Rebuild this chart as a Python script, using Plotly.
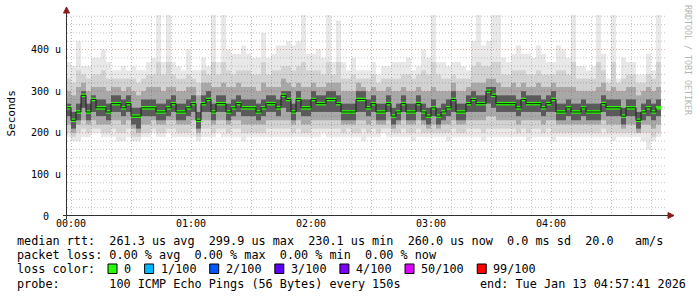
import plotly.graph_objects as go

# ---------------- data ----------------
step_sec = 150            # one smoke column every 150 s
first_step_min = -2.5     # start of first column, minutes after 00:00

median = [260,230,250,290,250,280,260,260,250,270,
          270,260,270,240,240,260,260,260,250,250,
          260,270,250,250,260,270,230,270,280,250,
          270,270,250,260,270,260,260,260,250,260,
          270,270,260,290,280,250,280,260,260,280,
          270,270,280,280,270,250,250,250,280,280,
          260,270,250,250,270,240,250,270,250,250,
          270,250,240,260,240,250,260,280,250,250,
          270,280,270,270,300,290,270,270,270,270,
          260,280,270,270,270,260,270,280,250,250,
          260,250,250,260,250,250,250,270,260,260,
          260,240,260,260,230,250,260,250,260]

smoke_max = [370,360,420,360,360,380,380,400,370,350,
             350,360,350,360,350,350,370,380,490,370,
             490,370,360,350,400,350,350,380,360,490,
             370,490,400,390,390,410,390,380,380,440,
             380,390,410,410,420,410,420,490,390,390,
             400,380,490,370,470,370,350,380,350,350,
             350,370,340,360,360,370,370,370,380,350,
             360,400,380,490,370,370,360,370,370,360,
             350,420,490,410,420,490,490,380,370,390,
             410,390,390,380,410,390,370,370,410,400,
             380,490,360,360,350,360,490,390,330,490,
             330,380,370,370,340,340,390,350,490]

upper_outer = [330,320,350,340,330,340,340,350,330,330,
               330,330,330,330,320,330,340,340,370,340,
               370,340,330,330,340,330,320,350,340,370,
               340,370,350,340,350,350,350,340,340,370,
               340,350,350,360,360,350,360,370,350,350,
               350,340,370,340,370,330,330,340,330,330,
               330,340,320,330,330,330,330,340,340,330,
               340,350,340,370,340,330,330,340,330,330,
               330,360,370,360,360,370,370,340,340,350,
               350,350,340,340,350,340,340,340,350,350,
               340,370,330,330,330,330,370,350,320,370,
               320,330,340,340,320,320,340,330,370]

upper_mid = [300,290,310,320,300,310,310,310,300,310,
             310,300,310,300,290,300,310,310,310,300,
             310,310,300,300,310,310,290,320,320,310,
             310,320,310,310,320,310,310,310,300,320,
             310,310,310,330,320,310,320,310,310,320,
             310,310,320,320,320,300,300,300,320,310,
             300,310,300,300,310,300,300,310,300,300,
             310,300,300,310,300,300,300,320,300,300,
             310,320,320,320,330,330,320,310,310,320,
             310,320,310,310,320,310,310,320,310,310,
             310,310,300,300,300,300,310,320,300,310,
             300,300,310,310,290,300,310,300,310]

core_hi = [270,250,270,300,270,290,280,280,270,290,
           290,280,290,260,260,280,280,280,270,270,
           280,290,270,270,280,290,250,290,300,270,
           290,290,270,280,290,280,280,280,270,280,
           290,290,280,300,300,270,300,280,280,300,
           290,290,300,300,290,270,270,270,300,300,
           280,290,270,270,290,260,270,290,270,270,
           290,270,260,280,260,270,280,300,270,270,
           290,300,290,290,310,310,290,290,290,290,
           280,300,290,290,290,280,290,300,270,270,
           280,270,270,280,270,270,270,290,280,280,
           280,260,280,280,250,270,280,270,280]

core_lo = [240,210,230,260,230,250,240,240,230,250,
           250,240,250,220,210,240,240,240,230,230,
           240,250,230,230,240,250,210,250,250,230,
           250,250,230,240,250,240,240,240,230,240,
           250,250,240,260,250,230,250,240,240,250,
           250,250,250,250,250,230,230,230,250,250,
           240,250,230,230,250,220,230,250,230,230,
           250,230,220,240,220,230,240,250,230,230,
           250,250,250,250,270,260,250,250,250,250,
           240,250,250,250,250,240,250,250,230,230,
           240,230,230,240,230,230,230,250,240,240,
           240,220,240,240,210,230,240,230,240]

lower_mid = [220,200,220,230,220,230,220,220,220,230,
             230,220,230,210,200,220,220,230,220,220,
             230,230,220,220,220,230,200,230,230,220,
             230,230,220,230,230,220,220,220,220,220,
             230,230,230,230,230,220,230,220,220,230,
             230,230,230,230,230,220,220,220,230,230,
             220,230,220,220,230,210,220,230,220,220,
             230,220,210,220,210,220,220,230,220,220,
             230,230,230,230,240,240,230,230,230,230,
             220,230,230,230,230,220,230,230,220,220,
             220,220,220,220,220,220,220,230,220,220,
             220,210,220,220,200,220,220,210,220]

lower_outer = [200,190,200,210,200,210,210,200,200,210,
               200,200,210,190,190,200,200,210,200,200,
               210,210,200,200,200,210,190,210,210,200,
               210,210,200,210,210,200,200,200,200,200,
               210,210,210,210,210,200,210,200,200,210,
               210,210,210,210,210,200,210,200,200,210,
               200,210,200,210,210,200,200,210,200,200,
               210,200,200,200,200,200,200,210,200,200,
               210,210,210,200,210,210,210,210,210,210,
               200,210,200,210,210,200,210,200,200,200,
               200,200,200,200,200,200,200,210,200,200,
               200,200,200,200,200,200,200,190,200]

smoke_min = [190,180,180,190,190,200,200,190,190,190,
             180,180,190,180,180,190,190,200,190,190,
             200,190,190,190,190,190,180,190,190,190,
             200,190,190,190,190,180,190,190,190,190,
             190,190,190,190,190,190,190,190,190,190,
             190,200,190,190,190,190,190,190,190,180,
             190,190,190,200,190,190,190,190,190,180,
             190,190,190,190,190,190,180,190,190,190,
             190,190,190,180,190,190,190,190,190,190,
             190,190,180,190,190,190,190,180,190,190,
             190,190,190,190,190,190,190,190,190,180,
             190,190,190,190,190,180,160,180,190]

time_tick_min = [0, 60, 120, 180, 240]
time_tick_labels = ["00:00", "01:00", "02:00", "03:00", "04:00"]
y_tick_vals = [0, 100, 200, 300, 400]
y_tick_labels = ["0  ", "100 u", "200 u", "300 u", "400 u"]

rtt_avg, rtt_max, rtt_min, rtt_now = 261.3, 299.9, 230.1, 260.0
rtt_sd_ms, am_s = 0.0, 20.0
loss_avg, loss_max, loss_min, loss_now = 0.0, 0.0, 0.0, 0.0
loss_labels = ["0", "1/100", "2/100", "3/100", "4/100", "50/100", "99/100"]
loss_colors = ["#26ff00", "#00b8ff", "#0059ff", "#5e00ff", "#7e00ff", "#dd00ff", "#ff0000"]
probe_text = "100 ICMP Echo Pings (56 Bytes) every 150s"
end_text = "end: Tue Jan 13 04:57:41 2026"

# ---------------- layout geometry ----------------
W, H = 697, 297
PL, PR, PT, PB = 67, 667, 15, 216
X_RANGE = [-2.0, 298.0]
Y_RANGE = [0, 483]

def px(xpix):
    return (xpix - PL) / (PR - PL)

def py(ypix):
    return (PB - ypix) / (PB - PT)

step_min = step_sec / 60.0
starts = [first_step_min + i * step_min for i in range(len(median))]
centers = [s + step_min / 2 for s in starts]

fig = go.Figure()

layers = [
    (smoke_min, smoke_max, "#e8e8e8"),
    (lower_outer, upper_outer, "#d2d2d2"),
    (lower_mid, upper_mid, "#a8a8a8"),
    (core_lo, core_hi, "#5a5a5a"),
]
for lo, hi, col in layers:
    fig.add_trace(go.Bar(
        x=centers, base=lo, y=[h - l for l, h in zip(lo, hi)],
        width=step_min, marker=dict(color=col, line=dict(width=0)),
        hoverinfo="skip"))

# median step line (dark) + green (0 % loss) median marks
fig.add_trace(go.Scatter(x=starts, y=median, mode="lines", line_shape="hv",
                         line=dict(color="#1a1a1a", width=1), hoverinfo="skip"))
thick = 8.5
fig.add_trace(go.Bar(x=centers, base=[m - thick / 2 for m in median],
                     y=[thick] * len(median), width=step_min,
                     marker=dict(color=loss_colors[0], line=dict(width=0)),
                     hoverinfo="skip"))

shapes = []
minor_col = "rgba(90,90,90,0.35)"
major_col = "rgba(200,40,40,0.42)"
half = 0.25  # half a pixel in minutes
for m in range(0, 300, 10):
    col = major_col if m % 30 == 0 else minor_col
    shapes.append(dict(type="line", xref="x", yref="paper", x0=m + half, x1=m + half,
                       y0=0, y1=1, layer="above",
                       line=dict(color=col, width=1, dash="1px,2px")))
for v in range(20, 483, 20):
    col = major_col if v % 100 == 0 else minor_col
    shapes.append(dict(type="line", xref="paper", yref="y", x0=0, x1=1,
                       y0=v, y1=v, layer="above",
                       line=dict(color=col, width=1, dash="1px,2px")))
# axes
axis_col = "#303030"
shapes.append(dict(type="line", xref="paper", yref="paper", x0=px(63), x1=px(669),
                   y0=py(215.5), y1=py(215.5), layer="above",
                   line=dict(color=axis_col, width=1)))
shapes.append(dict(type="line", xref="paper", yref="paper", x0=px(66.5), x1=px(66.5),
                   y0=py(219), y1=py(10), layer="above",
                   line=dict(color=axis_col, width=1)))
arrow_col = "#8b1c1c"
shapes.append(dict(type="path", xref="paper", yref="paper", layer="above",
                   path="M %f,%f L %f,%f L %f,%f Z" % (px(63.5), py(13), px(69.5), py(13), px(66.5), py(7)),
                   fillcolor=arrow_col, line=dict(color=arrow_col, width=1)))
shapes.append(dict(type="path", xref="paper", yref="paper", layer="above",
                   path="M %f,%f L %f,%f L %f,%f Z" % (px(668), py(212.5), px(668), py(218.5), px(674), py(215.5)),
                   fillcolor=arrow_col, line=dict(color=arrow_col, width=1)))

# legend boxes and texts
mono = "DejaVu Sans Mono"
lfs = 11.8
cw = 7.12
annotations = []

def nb(s):
    return s.replace(" ", "\u00a0")

def add_text(x, y, text, size=lfs, color="black", angle=0, xanchor="left"):
    annotations.append(dict(xref="paper", yref="paper", x=px(x), y=py(y), text=nb(text),
                            showarrow=False, xanchor=xanchor, yanchor="middle",
                            textangle=angle, borderpad=0,
                            font=dict(family=mono, size=size, color=color)))

line_y = [241, 255.3, 268.7, 283.7]
l1 = "median rtt:  %.1f us avg  %.1f us max  %.1f us min  %.1f us now  %.1f ms sd  %.1f   am/s" % (
    rtt_avg, rtt_max, rtt_min, rtt_now, rtt_sd_ms, am_s)
l2 = "packet loss: %.2f %% avg  %.2f %% max  %.2f %% min  %.2f %% now" % (
    loss_avg, loss_max, loss_min, loss_now)
add_text(16, line_y[0], l1)
add_text(16, line_y[1], l2)
add_text(16, line_y[2], "loss color:")
add_text(16, line_y[3], "probe:       " + probe_text)
add_text(479, line_y[3], end_text)

tx = 123.0
for lab, col in zip(loss_labels, loss_colors):
    shapes.append(dict(type="rect", xref="paper", yref="paper",
                       x0=px(tx - 15), x1=px(tx - 6), y0=py(273.5), y1=py(264),
                       fillcolor=col, line=dict(color="black", width=1), layer="above"))
    add_text(tx, line_y[2], lab)
    tx += len(lab) * cw + 29.5

add_text(11, 113.5, "Seconds", size=11, angle=-90, xanchor="center")
add_text(688, 60, "RRDTOOL / TOBI OETIKER", size=8.3, color="#b4b4b4", angle=90, xanchor="center")

fig.update_layout(
    width=W, height=H,
    margin=dict(l=PL, r=W - PR, t=PT, b=H - PB, pad=0),
    paper_bgcolor="white", plot_bgcolor="white",
    barmode="overlay", showlegend=False,
    font=dict(family=mono, size=10, color="black"),
    shapes=shapes, annotations=annotations,
    xaxis=dict(range=X_RANGE, tickvals=time_tick_min, ticktext=time_tick_labels,
               showgrid=False, zeroline=False, showline=False, ticks="",
               tickfont=dict(family=mono, size=10, color="black"), fixedrange=True),
    yaxis=dict(range=Y_RANGE, tickvals=y_tick_vals, ticktext=[nb(t) for t in y_tick_labels],
               showgrid=False, zeroline=False, showline=False, ticks="",
               ticklabelstandoff=5,
               tickfont=dict(family=mono, size=10, color="black"), fixedrange=True),
)

fig.write_html("out.html")
